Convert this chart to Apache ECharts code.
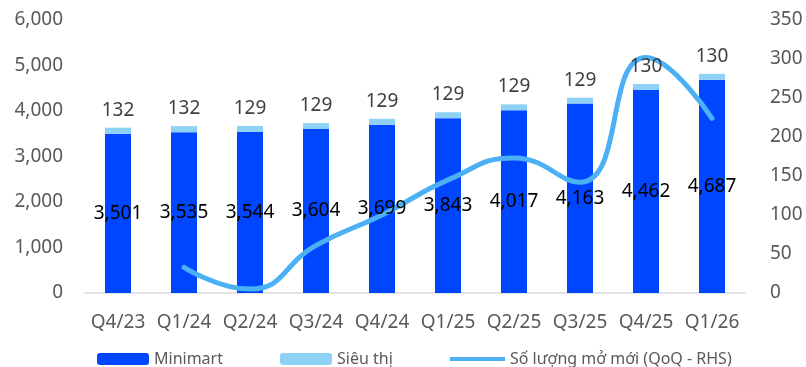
<!DOCTYPE html>
<html>
<head>
<meta charset="utf-8">
<script src="https://cdn.jsdelivr.net/npm/echarts@6/dist/echarts.min.js"></script>
<style>
  html, body { margin: 0; padding: 0; background: #fff; }
  #chart { width: 806px; height: 367px; }
</style>
</head>
<body>
<div id="chart"></div>
<script>
// so lieu doc tu hinh
var quarters = ['Q4/23', 'Q1/24', 'Q2/24', 'Q3/24', 'Q4/24', 'Q1/25', 'Q2/25', 'Q3/25', 'Q4/25', 'Q1/26'];
var minimart = [3501, 3535, 3544, 3604, 3699, 3843, 4017, 4163, 4462, 4687];
var sieuThi = [132, 132, 129, 129, 129, 129, 129, 129, 130, 130];
var moMoi = ['-', 33, 5, 61, 100, 145, 173, 142, 302, 224];

var FONT = '"Noto Sans", sans-serif';
var GRAY = '#595959';

function fmt(v) {
    return Number(v).toLocaleString('en-US');
}

var myChart = echarts.init(document.getElementById('chart'));
var option = {
    animation: false,
    textStyle: { fontFamily: FONT },
    grid: {
        left: 85,
        right: 61,
        top: 20,
        bottom: 74
    },
    legend: [{
        left: 92,
        top: 346,
        itemWidth: 52,
        itemHeight: 12,
        data: ['Minimart'],
        textStyle: { color: GRAY, fontSize: 16, fontFamily: FONT }
    }, {
        left: 275,
        top: 346,
        itemWidth: 52,
        itemHeight: 12,
        data: ['Siêu thị'],
        textStyle: { color: GRAY, fontSize: 16, fontFamily: FONT }
    }, {
        left: 445,
        top: 346,
        itemWidth: 55,
        itemHeight: 12,
        data: [{ name: 'Số lượng mở mới (QoQ - RHS)', icon: 'path://M0,4 L55,4 L55,8 L0,8 Z' }],
        textStyle: { color: GRAY, fontSize: 16, fontFamily: FONT }
    }],
    xAxis: {
        type: 'category',
        data: quarters,
        axisTick: { show: false },
        axisLine: { lineStyle: { color: '#d9d9d9', width: 1.5 } },
        axisLabel: { color: GRAY, fontSize: 19, margin: 20, interval: 0, fontFamily: FONT }
    },
    yAxis: [{
        type: 'value',
        min: 0,
        max: 6000,
        interval: 1000,
        splitLine: { show: false },
        axisLine: { show: false },
        axisTick: { show: false },
        axisLabel: { color: GRAY, fontSize: 19, margin: 22, fontFamily: FONT, formatter: fmt }
    }, {
        type: 'value',
        min: 0,
        max: 350,
        interval: 50,
        splitLine: { show: false },
        axisLine: { show: false },
        axisTick: { show: false },
        axisLabel: { color: GRAY, fontSize: 19, margin: 25, fontFamily: FONT }
    }],
    series: [
        {
            name: 'Minimart',
            type: 'bar',
            stack: 'tong',
            barWidth: 26,
            itemStyle: { color: '#0046ff' },
            data: minimart
        },
        {
            name: 'Siêu thị',
            type: 'bar',
            stack: 'tong',
            barWidth: 26,
            itemStyle: { color: '#8dd1f5' },
            data: sieuThi
        },
        {
            name: 'Số lượng mở mới (QoQ - RHS)',
            type: 'line',
            yAxisIndex: 1,
            smooth: 0.5,
            showSymbol: false,
            symbol: 'none',
            lineStyle: { color: '#4cb0f5', width: 5, cap: 'round' },
            itemStyle: { color: '#4cb0f5' },
            z: 5,
            data: moMoi
        },
        // nhan so lieu ve tren duong (lop rieng, cot trong suot)
        {
            name: 'lbl_minimart',
            type: 'bar',
            stack: 'nhan',
            barWidth: 26,
            barGap: '-100%',
            zlevel: 1,
            silent: true,
            itemStyle: { color: 'rgba(0,0,0,0)' },
            label: {
                show: true,
                position: 'inside',
                color: '#000',
                fontSize: 19,
                fontFamily: FONT,
                formatter: function (p) { return fmt(p.value); }
            },
            data: minimart
        },
        {
            name: 'lbl_sieuthi',
            type: 'bar',
            stack: 'nhan',
            barWidth: 26,
            barGap: '-100%',
            zlevel: 1,
            silent: true,
            itemStyle: { color: 'rgba(0,0,0,0)' },
            label: {
                show: true,
                position: 'top',
                distance: 8,
                color: '#404040',
                fontSize: 19,
                fontFamily: FONT
            },
            data: sieuThi
        }
    ]
};

myChart.setOption(option);
window.addEventListener("resize", function () {
    myChart.resize();
});
</script>
</body>
</html>
